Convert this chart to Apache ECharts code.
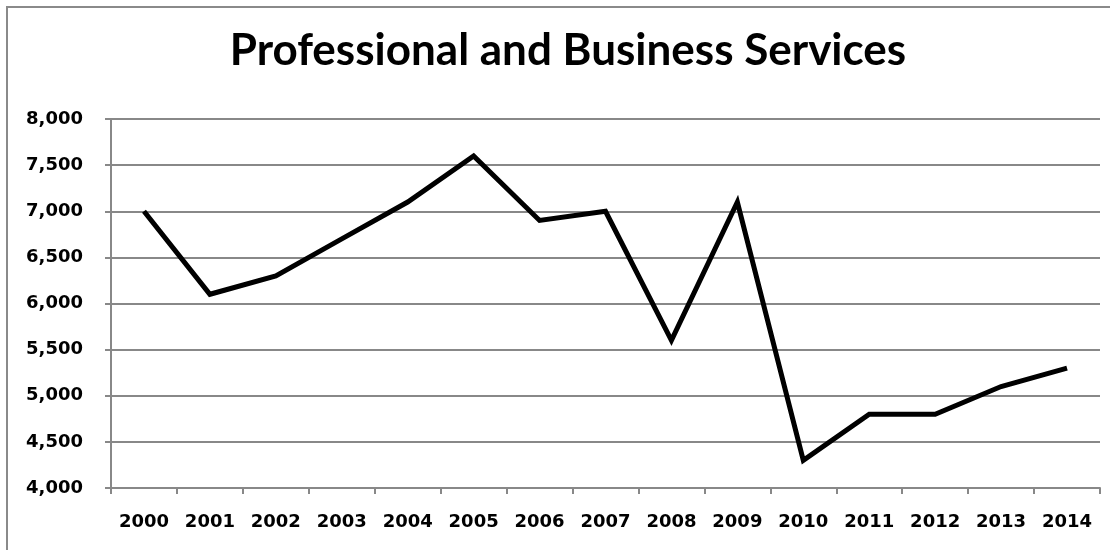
<!DOCTYPE html>
<html><head><meta charset="utf-8">
<script src="https://cdn.jsdelivr.net/npm/echarts@6/dist/echarts.min.js"></script>
<style>html,body{margin:0;padding:0;background:#fff}#c{width:1110px;height:550px}</style>
</head><body><div id="c"></div>
<script>
const titleText = 'Professional and Business Services';
const years = ['2000','2001','2002','2003','2004','2005','2006','2007','2008','2009','2010','2011','2012','2013','2014'];
const values = [7000,6100,6300,6700,7100,7600,6900,7000,5600,7100,4300,4800,4800,5100,5300];
const yMin = 4000, yMax = 8000, yStep = 500;

const chart = echarts.init(document.getElementById('c'), null, {renderer:'canvas'});
const titleFont = 'Lato, "Open Sans", sans-serif';
const labelFont = '"DejaVu Sans", sans-serif';
chart.setOption({
  animation:false,
  backgroundColor:'#fff',
  graphic:[{type:'rect',shape:{x:7,y:7,width:1200,height:600},style:{fill:'none',stroke:'#8a8a8a',lineWidth:2},silent:true}],
  title:{text:titleText,left:563,textAlign:'center',top:24,textStyle:{fontFamily:titleFont,fontWeight:'bold',fontSize:44,color:'#000'}},
  grid:{left:111,right:10,top:119,bottom:62},
  xAxis:{type:'category',data:years,boundaryGap:true,
    axisLine:{lineStyle:{color:'#888',width:2}},
    axisTick:{show:true,length:6,lineStyle:{color:'#888',width:2},alignWithLabel:false},
    axisLabel:{fontFamily:labelFont,fontWeight:'bold',fontSize:18,color:'#000',margin:25}},
  yAxis:{type:'value',min:yMin,max:yMax,interval:yStep,
    axisLine:{show:true,lineStyle:{color:'#888',width:2}},
    axisTick:{show:true,length:6,lineStyle:{color:'#888',width:2}},
    splitLine:{lineStyle:{color:'#888',width:2}},
    axisLabel:{fontFamily:labelFont,fontWeight:'bold',fontSize:18,color:'#000',margin:28,
      formatter:v=>v.toLocaleString('en-US')}},
  series:[{type:'line',data:values,showSymbol:false,symbol:'none',lineStyle:{color:'#000',width:5,join:'miter'}}]
});
</script></body></html>
